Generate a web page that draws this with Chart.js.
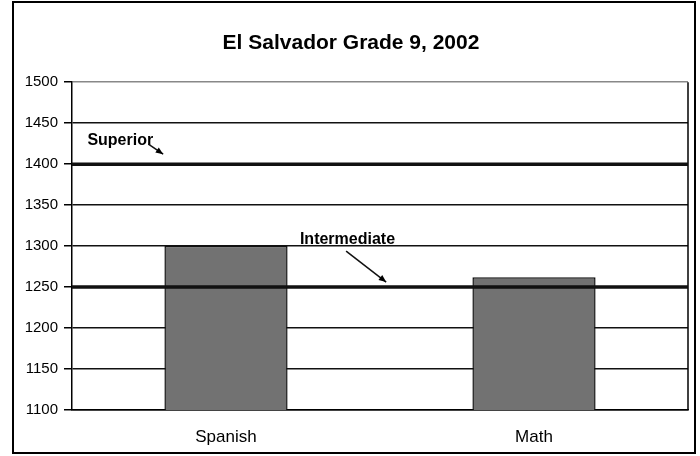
<!DOCTYPE html>
<html>
<head>
<meta charset="utf-8">
<script src="https://cdn.jsdelivr.net/npm/chart.js@4/dist/chart.umd.min.js"></script>
<style>
	html, body { margin: 0; padding: 0; background: #fff; }
	#wrap { width: 700px; height: 456px; }
</style>
</head>
<body>
<div id="wrap"><canvas id="myBarChart"></canvas></div>
<script>
// Chart values
const categories = ["Spanish", "Math"];
const scores = [1300, 1262];
const yMin = 1100;
const yMax = 1500;
const yStep = 50;
const benchmarkLabels = ["Superior", "Intermediate"];
const benchmarkValues = [1400, 1250];

// Frame, benchmark lines and their arrow labels
const benchmarkPlugin = {
	id: "benchmarks",
	beforeDraw(chart) {
		const c = chart.ctx;
		c.save();
		c.fillStyle = "#fff";
		c.fillRect(0, 0, chart.width, chart.height);
		c.strokeStyle = "#000";
		c.lineWidth = 2;
		c.strokeRect(13, 2, 682, 451);
		c.restore();
	},
	afterDatasetsDraw(chart) {
		const c = chart.ctx;
		const area = chart.chartArea;
		const y = chart.scales.y;
		c.save();
		// plot border on the right
		c.strokeStyle = "#000";
		c.lineWidth = 1.5;
		c.beginPath();
		c.moveTo(area.right, area.top);
		c.lineTo(area.right, area.bottom);
		c.stroke();

		// label placement relative to the chart area
		const spots = [
			{ tx: 0.025, ty: -24, ax1: 0.124, ay1: -20, ax2: 0.148, ay2: -10 },
			{ tx: 0.37, ty: -47, ax1: 0.445, ay1: -36, ax2: 0.51, ay2: -5 },
		];
		benchmarkValues.forEach((v, i) => {
			const py = y.getPixelForValue(v);
			c.strokeStyle = "#111";
			c.lineWidth = 3.5;
			c.beginPath();
			c.moveTo(area.left, py);
			c.lineTo(area.right, py);
			c.stroke();

			const s = spots[i];
			const w = area.right - area.left;
			c.fillStyle = "#000";
			c.font = "bold 16px 'Liberation Sans', Arial, sans-serif";
			c.textBaseline = "middle";
			c.textAlign = "left";
			c.fillText(benchmarkLabels[i], area.left + s.tx * w, py + s.ty);

			const x1 = area.left + s.ax1 * w, y1 = py + s.ay1;
			const x2 = area.left + s.ax2 * w, y2 = py + s.ay2;
			c.lineWidth = 1.5;
			c.beginPath();
			c.moveTo(x1, y1);
			c.lineTo(x2, y2);
			c.stroke();
			const ang = Math.atan2(y2 - y1, x2 - x1);
			c.beginPath();
			c.moveTo(x2, y2);
			c.lineTo(x2 - 8 * Math.cos(ang - 0.4), y2 - 8 * Math.sin(ang - 0.4));
			c.lineTo(x2 - 8 * Math.cos(ang + 0.4), y2 - 8 * Math.sin(ang + 0.4));
			c.closePath();
			c.fill();
		});
		c.restore();
	},
};

const ctx = document.getElementById("myBarChart");

new Chart(ctx, {
	type: "bar",
	data: {
		labels: categories,
		datasets: [
			{
				label: "Score",
				data: scores,
				backgroundColor: "#727272",
				borderColor: "#111",
				borderWidth: 1.5,
				barPercentage: 0.8,
				categoryPercentage: 0.5,
			},
		],
	},
	options: {
		responsive: true,
		maintainAspectRatio: false,
		animation: false,
		layout: {
			padding: { top: 2, left: 14, right: 12, bottom: 0 },
		},
		plugins: {
			legend: { display: false },
			tooltip: { enabled: false },
			title: {
				display: true,
				text: "El Salvador Grade 9, 2002",
				color: "#000",
				font: { family: "'Liberation Sans', Arial, sans-serif", size: 21, weight: "bold" },
				padding: { top: 29, bottom: 26 },
			},
		},
		scales: {
			x: {
				grid: { display: false, drawTicks: false },
				border: { display: true, color: "#000", width: 1.5 },
				ticks: {
					color: "#000",
					padding: 17,
					font: { family: "'Liberation Sans', Arial, sans-serif", size: 17 },
				},
				afterFit: (scale) => {
					scale.height = 46;
				},
			},
			y: {
				min: yMin,
				max: yMax,
				ticks: {
					stepSize: yStep,
					color: "#000",
					padding: 6,
					font: { family: "'Liberation Sans', Arial, sans-serif", size: 15 },
					callback: (value) => String(value),
				},
				grid: {
					color: (g) => (g.tick && g.tick.value === yMax ? "#888" : "#111"),
					lineWidth: 1.5,
					tickLength: 8,
					tickColor: "#000",
				},
				border: { display: true, color: "#000", width: 1.5 },
				afterFit: (scale) => {
					scale.width = 58;
				},
			},
		},
	},
	plugins: [benchmarkPlugin],
});
</script>
</body>
</html>
